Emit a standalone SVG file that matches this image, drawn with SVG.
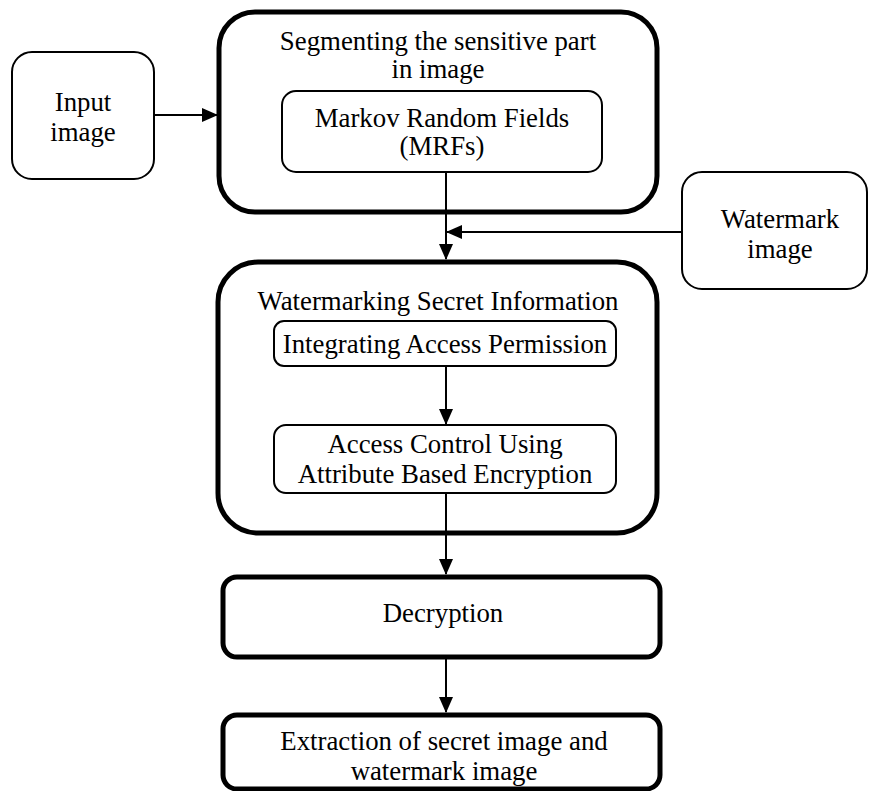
<svg xmlns="http://www.w3.org/2000/svg" width="869" height="791" viewBox="0 0 869 791">
<style>
text{font-family:"Liberation Serif","Times New Roman",serif;font-size:26.8px;fill:#000;text-anchor:middle}
.thin{fill:#fff;stroke:#000;stroke-width:2}
.thick{fill:#fff;stroke:#000;stroke-width:5}
.conn{fill:none;stroke:#000;stroke-width:2}
</style>
<defs>
<marker id="ah" markerUnits="userSpaceOnUse" markerWidth="16" markerHeight="16" viewBox="0 0 16 16" refX="15" refY="8" orient="auto">
<path d="M0,1 L16,8 L0,15 Z" fill="#000"/>
</marker>
</defs>
<rect width="869" height="791" fill="#fff"/>
<g id="input">
<rect class="thin" x="12" y="52" width="142" height="127" rx="20"/>
<text x="83" y="111">Input</text>
<text x="83" y="141">image</text>
</g>
<g id="segment">
<rect class="thick" x="219" y="12" width="438" height="200" rx="36"/>
<text x="438" y="50">Segmenting the sensitive part</text>
<text x="438" y="78">in image</text>
</g>
<g id="mrf">
<rect class="thin" x="282" y="91" width="320" height="81" rx="14"/>
<text x="442" y="127">Markov Random Fields</text>
<text x="442" y="155">(MRFs)</text>
</g>
<g id="watermark">
<rect class="thin" x="682" y="172" width="185" height="117" rx="20"/>
<text x="780" y="228">Watermark</text>
<text x="780" y="258">image</text>
</g>
<g id="watermarking">
<rect class="thick" x="218" y="262" width="439" height="271" rx="40"/>
<text x="438" y="310">Watermarking Secret Information</text>
</g>
<g id="integrating">
<rect class="thin" x="274" y="321" width="342" height="45" rx="10"/>
<text x="445" y="353">Integrating Access Permission</text>
</g>
<g id="access">
<rect class="thin" x="274" y="425" width="342" height="68" rx="12"/>
<text x="445" y="453">Access Control Using</text>
<text x="445" y="483">Attribute Based Encryption</text>
</g>
<g id="decryption">
<rect class="thick" x="223" y="577" width="437" height="80" rx="14"/>
<text x="443" y="622">Decryption</text>
</g>
<g id="extraction">
<rect class="thick" x="223" y="715" width="437" height="74" rx="14"/>
<text x="444" y="750">Extraction of secret image and</text>
<text x="444" y="780">watermark image</text>
</g>
<g id="connectors">
<line class="conn" x1="154" y1="115" x2="217" y2="115" marker-end="url(#ah)"/>
<line class="conn" x1="446" y1="172" x2="446" y2="259" marker-end="url(#ah)"/>
<line class="conn" x1="682" y1="232" x2="447" y2="232" marker-end="url(#ah)"/>
<line class="conn" x1="446" y1="366" x2="446" y2="424" marker-end="url(#ah)"/>
<line class="conn" x1="446" y1="493" x2="446" y2="574" marker-end="url(#ah)"/>
<line class="conn" x1="446" y1="657" x2="446" y2="712" marker-end="url(#ah)"/>
</g>
</svg>
